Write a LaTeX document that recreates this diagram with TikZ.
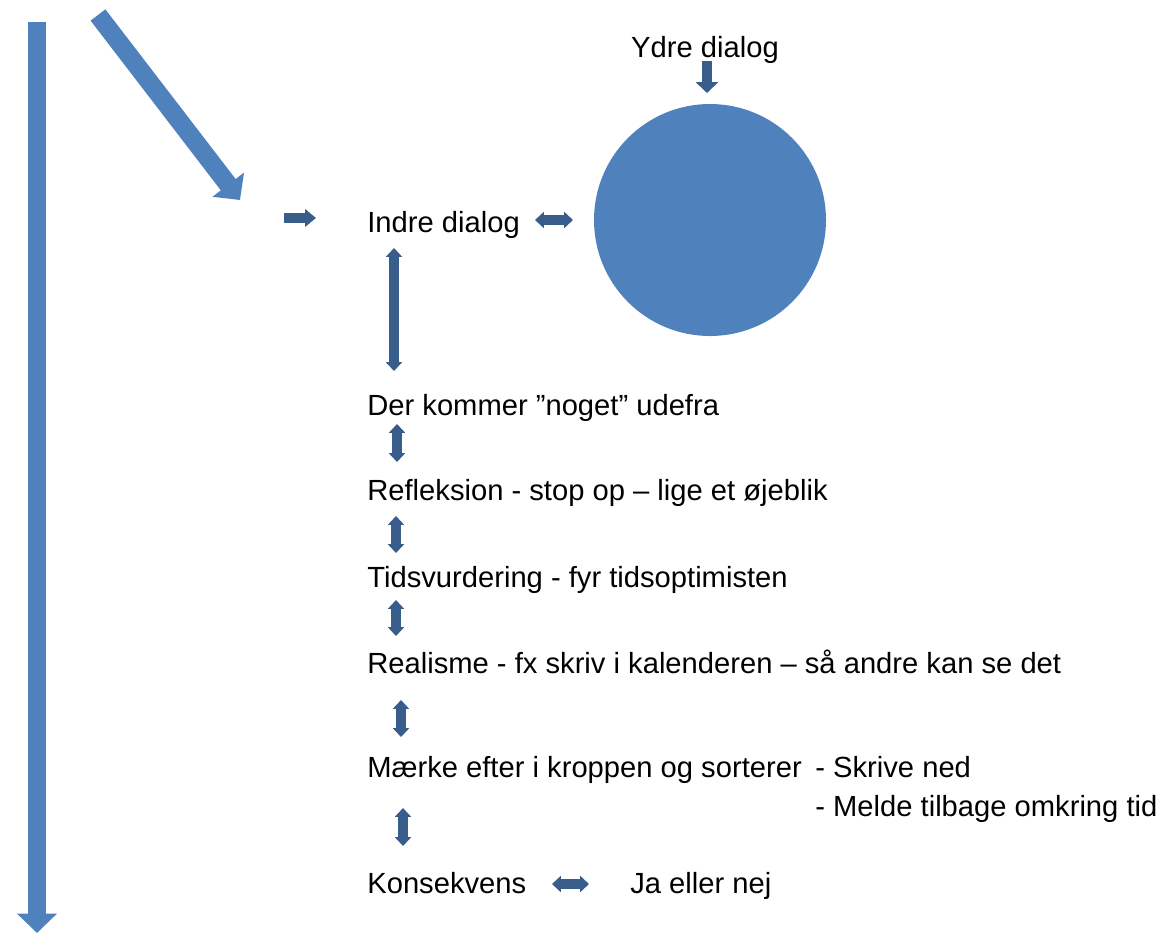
\documentclass[tikz,border=0pt]{standalone}
\usepackage{fontspec}
\setmainfont{Liberation Sans}
\usetikzlibrary{arrows.meta}
\definecolor{lightblue}{HTML}{4F81BD}
\definecolor{darkblue}{HTML}{385D8A}

\begin{document}
\begin{tikzpicture}[x=0.02cm,y=-0.02cm]
 \tikzset{label/.style = {anchor=base west,inner sep=0pt,font=\fontsize{16.6}{19}\selectfont}}
 \tikzset{bigarrow/.style = {lightblue,line width=10.6pt,-{Triangle[width=22pt,length=11pt]}}}
 \tikzset{smallarrow/.style = {darkblue,line width=5.8pt,-{Triangle[width=9.8pt,length=6.2pt]}}}
 \tikzset{twoway/.style = {darkblue,line width=5.6pt,{Triangle[width=9pt,length=5pt]}-{Triangle[width=9pt,length=5pt]}}}
 \useasboundingbox (0,0) rectangle (1165,934);
 % big arrows on the left
 \coordinate (l1) at (37,22);
 \coordinate (l2) at (37,933);
 \coordinate (d1) at (98,15);
 \coordinate (d2) at (240,200);
 \draw[bigarrow] (l1) -- (l2);
 \draw[bigarrow] (d1) -- (d2);
 % texts
 \node[label] (indre) at (367,232) {Indre dialog};
 \node[label,anchor=base] (ydre) at (705,57) {Ydre dialog};
 \node[label] (der) at (367,415) {Der kommer ”noget” udefra};
 \node[label] (refl) at (367,500) {Refleksion - stop op – lige et øjeblik};
 \node[label] (tids) at (367,587) {Tidsvurdering - fyr tidsoptimisten};
 \node[label] (real) at (367,673) {Realisme - fx skriv i kalenderen – så andre kan se det};
 \node[label] (maerke) at (367,777) {Mærke efter i kroppen og sorterer};
 \node[label] (skrive) at (815,777) {- Skrive ned};
 \node[label] (melde) at (815,816) {- Melde tilbage omkring tid};
 \node[label] (kons) at (367,893) {Konsekvens};
 \node[label] (ja) at (630,893) {Ja eller nej};
 % circle
 \node[circle,fill=lightblue,minimum size=232*0.02cm,inner sep=0pt] (ydrecircle) at (710,220) {};
 % small arrows
 \coordinate (r1) at (284,218);
 \coordinate (r2) at (316,218);
 \coordinate (y1) at (707,61);
 \coordinate (y2) at (707,93);
 \draw[smallarrow] (r1) -- (r2);
 \draw[smallarrow,-{Triangle[width=12.5pt,length=6.2pt]}] (y1) -- (y2);
 \coordinate (h1) at (535,220);
 \coordinate (h2) at (573,220);
 \coordinate (a1) at (394,248);
 \coordinate (a2) at (394,371);
 \coordinate (b1) at (397,424);
 \coordinate (b2) at (397,462);
 \coordinate (c1) at (396,516);
 \coordinate (c2) at (396,553);
 \coordinate (e1) at (396,600);
 \coordinate (e2) at (396,636);
 \coordinate (f1) at (401,700);
 \coordinate (f2) at (401,737);
 \coordinate (g1) at (403,808);
 \coordinate (g2) at (403,846);
 \coordinate (k1) at (552,884);
 \coordinate (k2) at (589,884);
 \foreach \p in {h,a,b,c,e,f,g,k}
  \draw[twoway] (\p1) -- (\p2);

 \end{tikzpicture}
\end{document}
